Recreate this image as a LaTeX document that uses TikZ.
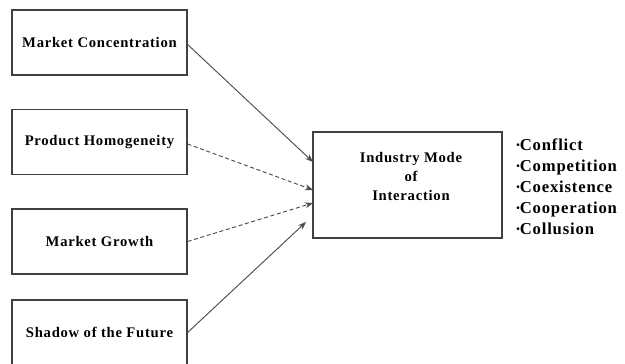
\documentclass[tikz,border=0pt]{standalone}
\usepackage{fontspec}
\setmainfont{Liberation Serif}
\newfontfamily\spaced[LetterSpace=5]{Liberation Serif}
\usetikzlibrary{arrows.meta}
\newcommand{\modebullet}{\raisebox{0.25ex}{\scalebox{0.6}{\textbullet}}}
\begin{document}
\begin{tikzpicture}[x=0.75pt,y=-0.75pt,
  factor/.style={draw=black!75,line width=0.9pt,minimum width=175*0.75pt,minimum height=65*0.75pt,
    inner sep=0pt,font=\spaced\bfseries\fontsize{11}{13}\selectfont},
  label/.style={inner sep=0pt,font=\spaced\bfseries\fontsize{11}{14}\selectfont,align=center},
  link/.style={draw=black!70,line width=0.7pt,-{Stealth[length=6pt,width=4.5pt]}},
  weak/.style={link,dash pattern=on 3pt off 2pt}]
\useasboundingbox (0,0) rectangle (625,364);
\clip (0,0) rectangle (625,364);
\fill[white] (0,0) rectangle (625,364);

% driving factors
\node[factor] (mc) at (99.5,42.5) {Market Concentration};
\node[factor] (ph) at (99.5,142) {Product Homogeneity};
\node[factor] (mg) at (99.5,241.5) {Market Growth};
\node[factor] (sf) at (99.5,332.5) {Shadow of the Future};

% outcome
\node[draw=black!75,line width=0.9pt,minimum width=189*0.75pt,minimum height=106*0.75pt,inner sep=0pt]
  (im) at (407.5,185) {};
\node[label] (imt) at (411,176.5) {Industry Mode\\of\\Interaction};

% modes of interaction
\node[inner sep=0pt,anchor=north west,align=left,font=\spaced\bfseries\fontsize{12.5}{15.75}\selectfont]
  (modes) at (516,138) {\modebullet Conflict\\\modebullet Competition\\\modebullet Coexistence\\\modebullet Cooperation\\\modebullet Collusion};

% influences
\coordinate (t1) at (313,162);
\coordinate (t2) at (313,190);
\coordinate (t3) at (313,203);
\coordinate (t4) at (306,222);
\draw[link] (mc.east) ++(0,2) -- (t1);
\draw[weak] (ph.east) ++(0,2) -- (t2);
\draw[weak] (mg.east) -- (t3);
\draw[link] (sf.east) -- (t4);
\end{tikzpicture}
\end{document}
